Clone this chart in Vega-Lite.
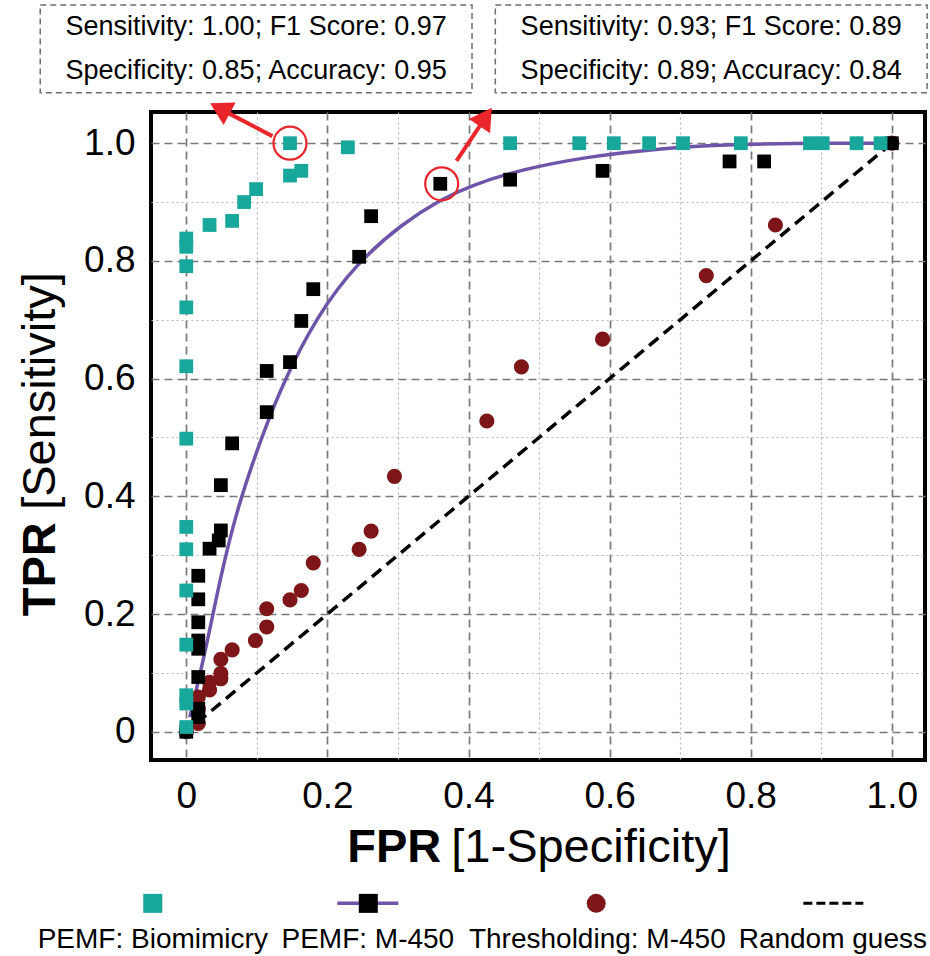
{
  "$schema": "https://vega.github.io/schema/vega-lite/v6.json",
  "width": 774,
  "height": 648,
  "autosize": {"type": "none"},
  "padding": {"left": 151, "top": 112, "right": 5, "bottom": 196},
  "config": {
    "font": "Liberation Sans",
    "view": {"stroke": "black", "strokeWidth": 4}
  },
  "datasets": {
    "biomimicry": [
      {"x": 0.147, "y": 1.0}, {"x": 0.229, "y": 0.993}, {"x": 0.163, "y": 0.953}, {"x": 0.147, "y": 0.945},
      {"x": 0.099, "y": 0.922}, {"x": 0.082, "y": 0.9}, {"x": 0.065, "y": 0.868}, {"x": 0.033, "y": 0.861},
      {"x": 0, "y": 0.838}, {"x": 0, "y": 0.824}, {"x": 0, "y": 0.791}, {"x": 0, "y": 0.721},
      {"x": 0, "y": 0.621}, {"x": 0, "y": 0.498}, {"x": 0, "y": 0.348}, {"x": 0, "y": 0.31},
      {"x": 0, "y": 0.24}, {"x": 0, "y": 0.148}, {"x": 0, "y": 0.062}, {"x": 0, "y": 0.048},
      {"x": 0, "y": 0.008}, {"x": 0.459, "y": 1}, {"x": 0.557, "y": 1}, {"x": 0.606, "y": 1},
      {"x": 0.656, "y": 1}, {"x": 0.704, "y": 1}, {"x": 0.786, "y": 1}, {"x": 0.884, "y": 1},
      {"x": 0.902, "y": 1}, {"x": 0.95, "y": 1}, {"x": 0.984, "y": 1}
    ],
    "m450": [
      {"x": 0.36, "y": 0.931}, {"x": 0.262, "y": 0.876}, {"x": 0.245, "y": 0.807}, {"x": 0.18, "y": 0.752},
      {"x": 0.163, "y": 0.698}, {"x": 0.147, "y": 0.628}, {"x": 0.114, "y": 0.613}, {"x": 0.114, "y": 0.543},
      {"x": 0.065, "y": 0.49}, {"x": 0.049, "y": 0.419}, {"x": 0.049, "y": 0.342}, {"x": 0.046, "y": 0.325},
      {"x": 0.033, "y": 0.311}, {"x": 0.017, "y": 0.265}, {"x": 0.017, "y": 0.225}, {"x": 0.017, "y": 0.186},
      {"x": 0.017, "y": 0.155}, {"x": 0.017, "y": 0.141}, {"x": 0.017, "y": 0.093}, {"x": 0.017, "y": 0.039},
      {"x": 0.017, "y": 0.025}, {"x": 0, "y": 0}, {"x": 0.459, "y": 0.938}, {"x": 0.59, "y": 0.953},
      {"x": 0.77, "y": 0.969}, {"x": 0.819, "y": 0.969}, {"x": 1, "y": 1}
    ],
    "thresholding": [
      {"x": 0.295, "y": 0.434}, {"x": 0.262, "y": 0.341}, {"x": 0.245, "y": 0.31}, {"x": 0.18, "y": 0.287},
      {"x": 0.163, "y": 0.24}, {"x": 0.147, "y": 0.224}, {"x": 0.114, "y": 0.209}, {"x": 0.114, "y": 0.178},
      {"x": 0.098, "y": 0.155}, {"x": 0.065, "y": 0.139}, {"x": 0.049, "y": 0.123}, {"x": 0.049, "y": 0.099},
      {"x": 0.049, "y": 0.09}, {"x": 0.033, "y": 0.084}, {"x": 0.033, "y": 0.071}, {"x": 0.017, "y": 0.059},
      {"x": 0.017, "y": 0.039}, {"x": 0.017, "y": 0.014}, {"x": 0, "y": 0}, {"x": 0.426, "y": 0.528},
      {"x": 0.475, "y": 0.62}, {"x": 0.59, "y": 0.667}, {"x": 0.737, "y": 0.775}, {"x": 0.835, "y": 0.861},
      {"x": 1, "y": 1}
    ],
    "fit": [
      {"x": 0.005, "y": 0.025}, {"x": 0.015, "y": 0.075}, {"x": 0.029, "y": 0.148}, {"x": 0.048, "y": 0.26},
      {"x": 0.072, "y": 0.38}, {"x": 0.108, "y": 0.505}, {"x": 0.138, "y": 0.595}, {"x": 0.185, "y": 0.706},
      {"x": 0.242, "y": 0.797}, {"x": 0.308, "y": 0.865}, {"x": 0.36, "y": 0.904}, {"x": 0.403, "y": 0.928},
      {"x": 0.473, "y": 0.955}, {"x": 0.568, "y": 0.977}, {"x": 0.662, "y": 0.99}, {"x": 0.757, "y": 0.997},
      {"x": 0.851, "y": 1.0}, {"x": 1, "y": 1}
    ],
    "random": [{"x": 0.015, "y": 0.015}, {"x": 1, "y": 1}]
  },
  "layer": [
    {"data": {"name": "random"}, "mark": {"type": "line", "color": "black", "strokeWidth": 3.5, "strokeDash": [12, 7]},
     "encoding": {
       "x": {"field": "x", "type": "quantitative", "title": null,
             "scale": {"domain": [-0.05, 1.047], "nice": false, "zero": false},
             "axis": {"title": null, "values": [0, 0.1, 0.2, 0.3, 0.4, 0.5, 0.6, 0.7, 0.8, 0.9, 1], "ticks": false, "domain": false, "grid": true,
                      "labelFontSize": 37, "labelColor": "black", "labelFont": "Liberation Sans", "labelPadding": 18,
                      "labelOverlap": false, "labelFlush": false, "labelBound": false,
                      "labelExpr": "datum.value == 0 ? '0' : (round(datum.value*10) % 2 == 0 ? format(datum.value, '.1f') : '')",
                      "gridColor": {"condition": {"test": "round(datum.value*10) % 2 == 0", "value": "#7a7a7a"}, "value": "#b5b5b5"},
                      "gridDash": {"condition": {"test": "round(datum.value*10) % 2 == 0", "value": [8, 5]}, "value": [2, 3]},
                      "gridWidth": {"condition": {"test": "round(datum.value*10) % 2 == 0", "value": 1.7}, "value": 1.2}}},
       "y": {"field": "y", "type": "quantitative", "title": null,
             "scale": {"domain": [-0.048, 1.053], "nice": false, "zero": false},
             "axis": {"title": null, "values": [0, 0.1, 0.2, 0.3, 0.4, 0.5, 0.6, 0.7, 0.8, 0.9, 1], "ticks": false, "domain": false, "grid": true,
                      "labelFontSize": 37, "labelColor": "black", "labelFont": "Liberation Sans", "labelPadding": 16,
                      "labelOverlap": false, "labelFlush": false, "labelBound": false,
                      "labelExpr": "datum.value == 0 ? '0' : (round(datum.value*10) % 2 == 0 ? format(datum.value, '.1f') : '')",
                      "gridColor": {"condition": {"test": "round(datum.value*10) % 2 == 0", "value": "#7a7a7a"}, "value": "#b5b5b5"},
                      "gridDash": {"condition": {"test": "round(datum.value*10) % 2 == 0", "value": [8, 5]}, "value": [2, 3]},
                      "gridWidth": {"condition": {"test": "round(datum.value*10) % 2 == 0", "value": 1.7}, "value": 1.2}}}
     }},
    {"data": {"name": "fit"}, "mark": {"type": "line", "color": "#6f55a9", "strokeWidth": 3.5, "interpolate": "basis"},
     "encoding": {"x": {"field": "x", "type": "quantitative", "title": null}, "y": {"field": "y", "type": "quantitative", "title": null}}},
    {"data": {"name": "thresholding"}, "mark": {"type": "point", "shape": "circle", "filled": true, "color": "#7e1518", "opacity": 1, "size": 230},
     "encoding": {"x": {"field": "x", "type": "quantitative", "title": null}, "y": {"field": "y", "type": "quantitative", "title": null}}},
    {"data": {"name": "m450"}, "mark": {"type": "point", "shape": "square", "filled": true, "color": "black", "opacity": 1, "size": 190},
     "encoding": {"x": {"field": "x", "type": "quantitative", "title": null}, "y": {"field": "y", "type": "quantitative", "title": null}}},
    {"data": {"name": "biomimicry"}, "mark": {"type": "point", "shape": "square", "filled": true, "color": "#17a89b", "opacity": 1, "size": 190},
     "encoding": {"x": {"field": "x", "type": "quantitative", "title": null}, "y": {"field": "y", "type": "quantitative", "title": null}}},

    {"data": {"values": [{}]}, "mark": {"type": "point", "shape": "circle", "filled": false, "color": "#e8262b", "strokeWidth": 2.2, "opacity": 1, "size": 1089},
     "encoding": {"x": {"datum": 0.147}, "y": {"datum": 1.0}}},
    {"data": {"values": [{}]}, "mark": {"type": "point", "shape": "circle", "filled": false, "color": "#e8262b", "strokeWidth": 2.2, "opacity": 1, "size": 1089},
     "encoding": {"x": {"datum": 0.362}, "y": {"datum": 0.931}}},
    {"data": {"values": [{}]}, "mark": {"type": "rule", "color": "#e8262b", "strokeWidth": 4},
     "encoding": {"x": {"datum": 0.122}, "y": {"datum": 1.012}, "x2": {"datum": 0.05}, "y2": {"datum": 1.057}}},
    {"data": {"values": [{}]}, "mark": {"type": "rule", "color": "#e8262b", "strokeWidth": 4},
     "encoding": {"x": {"datum": 0.383}, "y": {"datum": 0.97}, "x2": {"datum": 0.422}, "y2": {"datum": 1.04}}},
    {"data": {"values": [{}]}, "mark": {"type": "point", "shape": "triangle-up", "filled": true, "color": "#e8262b", "opacity": 1, "size": 650, "angle": 298},
     "encoding": {"x": {"datum": 0.0476}, "y": {"datum": 1.059}}},
    {"data": {"values": [{}]}, "mark": {"type": "point", "shape": "triangle-up", "filled": true, "color": "#e8262b", "opacity": 1, "size": 650, "angle": 34},
     "encoding": {"x": {"datum": 0.4243}, "y": {"datum": 1.0447}}},

    {"data": {"values": [{}]}, "mark": {"type": "rect", "fill": null, "stroke": "#6e6e6e", "strokeWidth": 1.5, "strokeDash": [6, 4]},
     "encoding": {"x": {"datum": -0.207}, "x2": {"datum": 0.405}, "y": {"datum": 1.235}, "y2": {"datum": 1.0855}}},
    {"data": {"values": [{}]}, "mark": {"type": "rect", "fill": null, "stroke": "#6e6e6e", "strokeWidth": 1.5, "strokeDash": [6, 4]},
     "encoding": {"x": {"datum": 0.438}, "x2": {"datum": 1.05}, "y": {"datum": 1.235}, "y2": {"datum": 1.0855}}},
    {"data": {"values": [{}]}, "mark": {"type": "text", "text": "Sensitivity: 1.00; F1 Score: 0.97", "fontSize": 27, "align": "center", "baseline": "middle", "color": "black"},
     "encoding": {"x": {"datum": 0.099}, "y": {"datum": 1.1977}}},
    {"data": {"values": [{}]}, "mark": {"type": "text", "text": "Specificity: 0.85; Accuracy: 0.95", "fontSize": 27, "align": "center", "baseline": "middle", "color": "black"},
     "encoding": {"x": {"datum": 0.099}, "y": {"datum": 1.1229}}},
    {"data": {"values": [{}]}, "mark": {"type": "text", "text": "Sensitivity: 0.93; F1 Score: 0.89", "fontSize": 27, "align": "center", "baseline": "middle", "color": "black"},
     "encoding": {"x": {"datum": 0.744}, "y": {"datum": 1.1977}}},
    {"data": {"values": [{}]}, "mark": {"type": "text", "text": "Specificity: 0.89; Accuracy: 0.84", "fontSize": 27, "align": "center", "baseline": "middle", "color": "black"},
     "encoding": {"x": {"datum": 0.744}, "y": {"datum": 1.1229}}},

    {"data": {"values": [{}]}, "mark": {"type": "text", "text": "FPR", "fontSize": 47, "fontWeight": "bold", "align": "right", "baseline": "alphabetic", "color": "black"},
     "encoding": {"x": {"datum": 0.3614}, "y": {"datum": -0.222}}},
    {"data": {"values": [{}]}, "mark": {"type": "text", "text": "[1-Specificity]", "fontSize": 47, "align": "left", "baseline": "alphabetic", "color": "black"},
     "encoding": {"x": {"datum": 0.3756}, "y": {"datum": -0.222}}},
    {"data": {"values": [{}]}, "mark": {"type": "text", "text": "TPR", "fontSize": 47, "fontWeight": "bold", "angle": 270, "align": "right", "baseline": "alphabetic", "color": "black"},
     "encoding": {"x": {"datum": -0.1857}, "y": {"datum": 0.356}}},
    {"data": {"values": [{}]}, "mark": {"type": "text", "text": "[Sensitivity]", "fontSize": 47, "angle": 270, "align": "left", "baseline": "alphabetic", "color": "black"},
     "encoding": {"x": {"datum": -0.1857}, "y": {"datum": 0.377}}},

    {"data": {"values": [{}]}, "mark": {"type": "point", "shape": "square", "filled": true, "color": "#17a89b", "opacity": 1, "size": 361},
     "encoding": {"x": {"datum": -0.0475}, "y": {"datum": -0.2916}}},
    {"data": {"values": [{}]}, "mark": {"type": "rule", "color": "#6f55a9", "strokeWidth": 3.5},
     "encoding": {"x": {"datum": 0.214}, "x2": {"datum": 0.3005}, "y": {"datum": -0.2916}}},
    {"data": {"values": [{}]}, "mark": {"type": "point", "shape": "square", "filled": true, "color": "black", "opacity": 1, "size": 361},
     "encoding": {"x": {"datum": 0.258}, "y": {"datum": -0.2916}}},
    {"data": {"values": [{}]}, "mark": {"type": "point", "shape": "circle", "filled": true, "color": "#7e1518", "opacity": 1, "size": 361},
     "encoding": {"x": {"datum": 0.581}, "y": {"datum": -0.2916}}},
    {"data": {"values": [{}]}, "mark": {"type": "rule", "color": "black", "strokeWidth": 3, "strokeDash": [9, 4]},
     "encoding": {"x": {"datum": 0.8746}, "x2": {"datum": 0.9596}, "y": {"datum": -0.2916}}},
    {"data": {"values": [{}]}, "mark": {"type": "text", "text": "PEMF: Biomimicry", "fontSize": 28, "align": "center", "baseline": "alphabetic", "color": "black"},
     "encoding": {"x": {"datum": -0.0475}, "y": {"datum": -0.368}}},
    {"data": {"values": [{}]}, "mark": {"type": "text", "text": "PEMF: M-450", "fontSize": 28, "align": "center", "baseline": "alphabetic", "color": "black"},
     "encoding": {"x": {"datum": 0.2573}, "y": {"datum": -0.368}}},
    {"data": {"values": [{}]}, "mark": {"type": "text", "text": "Thresholding: M-450", "fontSize": 28, "align": "center", "baseline": "alphabetic", "color": "black"},
     "encoding": {"x": {"datum": 0.5826}, "y": {"datum": -0.368}}},
    {"data": {"values": [{}]}, "mark": {"type": "text", "text": "Random guess", "fontSize": 28, "align": "center", "baseline": "alphabetic", "color": "black"},
     "encoding": {"x": {"datum": 0.9164}, "y": {"datum": -0.368}}}
  ]
}
